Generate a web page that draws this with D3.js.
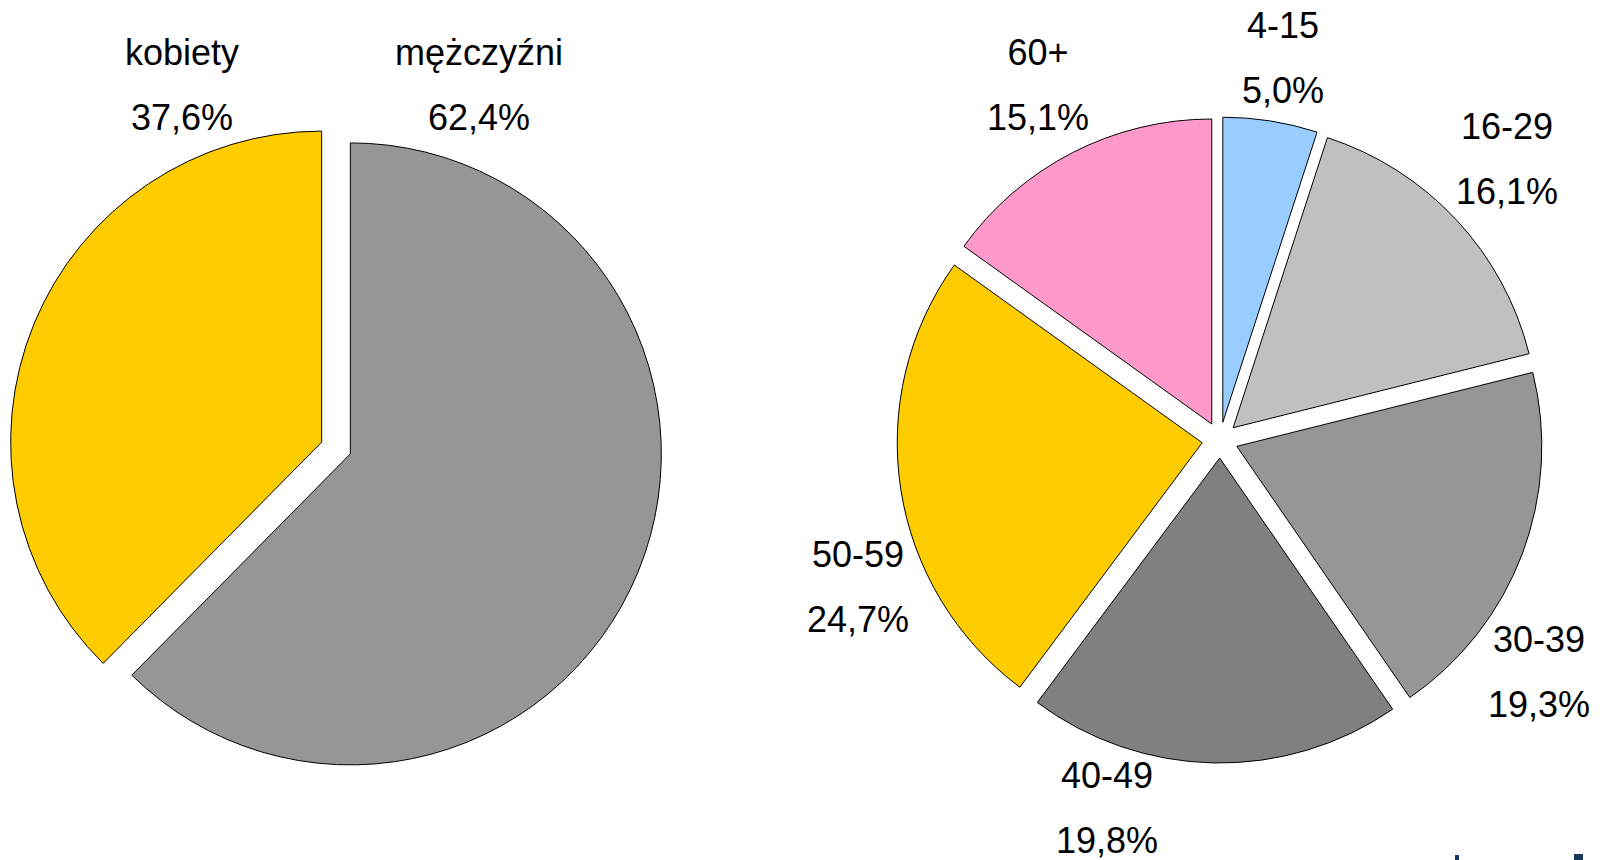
<!DOCTYPE html>
<html>
<head>
<meta charset="utf-8">
<script src="https://cdn.jsdelivr.net/npm/d3@7"></script>
<style>
  body { margin: 0; background: #fff; }
  svg { display: block; }
  text { font-family: "Liberation Sans", Arial, sans-serif; font-size: 36px; fill: #000; }
</style>
</head>
<body>
<div id="chart"></div>
<script>
// plec (clockwise from 12 o'clock)
const sexCategories = ["mężczyźni", "kobiety"];
const sexValues = [62.4, 37.6];
const sexColors = ["#969696", "#FFCC00"];

// wiek
const ageCategories = ["4-15", "16-29", "30-39", "40-49", "50-59", "60+"];
const ageValues = [5.0, 16.1, 19.3, 19.8, 24.7, 15.1];
const ageColors = ["#99CCFF", "#C0C0C0", "#969696", "#808080", "#FFCC00", "#FF99CC"];

// label anchors relative to pie centre (layout only)
const sexLabelPos = [[143, -383], [-154, -383]];
const ageLabelPos = [[63, -402], [287, -301], [319, 212], [-113, 348], [-362, 127], [-182, -375]];

let width = 1601,
    height = 860;

let svg = d3.select("#chart").append("svg")
    .attr("width", width)
    .attr("height", height);

let fmt = v => d3.format(".1f")(v).replace(".", ",") + "%";

function drawPie(cx, cy, radius, explode, cats, vals, colors, labelPos) {
    let pie = d3.pie().sort(null).value(d => d.v);
    let arc = d3.arc().innerRadius(0).outerRadius(radius);
    let data = pie(cats.map((c, i) => ({c: c, v: vals[i], col: colors[i], lp: labelPos[i]})));

    let g = svg.append("g").attr("transform", `translate(${cx},${cy})`);

    g.selectAll("path")
        .data(data)
        .enter()
        .append("path")
        .attr("d", arc)
        .attr("fill", d => d.data.col)
        .attr("stroke", "#000")
        .attr("stroke-width", 1)
        .attr("stroke-linejoin", "round")
        .attr("transform", d => {
            let mid = (d.startAngle + d.endAngle) / 2;
            return `translate(${explode * Math.sin(mid)},${-explode * Math.cos(mid)})`;
        });

    let lab = g.selectAll("g.lab")
        .data(data)
        .enter()
        .append("g")
        .attr("class", "lab")
        .attr("transform", d => `translate(${d.data.lp[0]},${d.data.lp[1]})`);

    lab.append("text")
        .attr("text-anchor", "middle")
        .attr("y", 0)
        .text(d => d.data.c);

    lab.append("text")
        .attr("text-anchor", "middle")
        .attr("y", 65)
        .text(d => fmt(d.data.v));
}

drawPie(336, 448, 311, 15.5, sexCategories, sexValues, sexColors, sexLabelPos);
drawPie(1220, 440, 305, 18, ageCategories, ageValues, ageColors, ageLabelPos);

// cut-off logo fragments at the bottom edge
svg.append("rect").attr("x", 1455).attr("y", 855).attr("width", 4).attr("height", 5).attr("fill", "#17375E");
svg.append("rect").attr("x", 1574).attr("y", 854).attr("width", 9).attr("height", 6).attr("fill", "#17375E");
</script>
</body>
</html>
